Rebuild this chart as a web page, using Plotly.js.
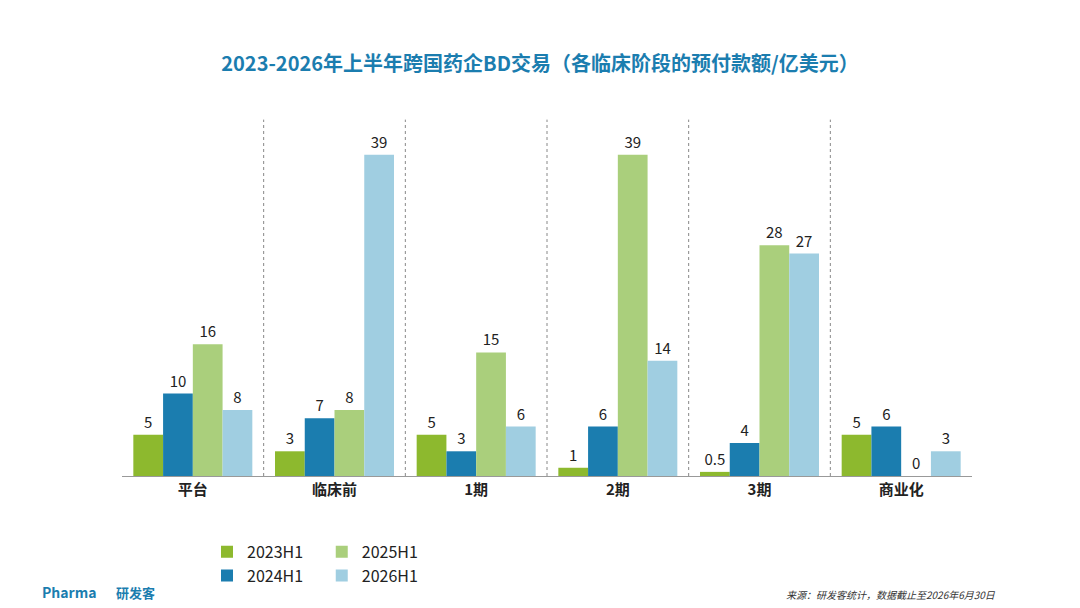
<!DOCTYPE html>
<html><head><meta charset="utf-8">
<script src="https://cdn.plot.ly/plotly-3.0.1.min.js"></script>
<style>body{margin:0}#c{width:1080px;height:608px}</style>
</head><body><div id="c"></div>
<script>
var categories = ['平台', '临床前', '1期', '2期', '3期', '商业化'];
var tickLabels = ['<b>平台</b>', '<b>临床前</b>', '<b>1期</b>', '<b>2期</b>', '<b>3期</b>', '<b>商业化</b>'];
var h2023 = [5, 3, 5, 1, 0.5, 5];
var h2024 = [10, 7, 3, 6, 4, 6];
var h2025 = [16, 8, 15, 39, 28, 0];
var h2026 = [8, 39, 6, 14, 27, 3];

function bar(name, vals, color, legend) {
    return {
        x: categories, y: vals, name: name, type: 'bar', legend: legend,
        marker: {color: color},
        text: vals.map(String), textposition: 'outside', cliponaxis: false,
        textfont: {size: 15, color: '#222'}
    };
}
var data = [
    bar('2023H1', h2023, '#8DB92E', 'legend'),
    bar('2024H1', h2024, '#1B7DAF', 'legend'),
    bar('2025H1', h2025, '#AACF7C', 'legend2'),
    bar('2026H1', h2026, '#A0CEE1', 'legend2')
];

var shapes = [];
for (var i = 0; i < categories.length - 1; i++) {
    shapes.push({type: 'line', xref: 'x', yref: 'paper', x0: i + 0.5, x1: i + 0.5, y0: 0, y1: 1.03,
        line: {color: '#888', width: 1, dash: 'dot'}});
}

var legendStyle = {font: {size: 16, color: '#222'}, itemwidth: 30, tracegroupgap: 0, bgcolor: 'rgba(0,0,0,0)'};
var layout = {
    font: {family: '"Noto Sans CJK SC", "Noto Sans", sans-serif', size: 13},
    title: {text: '<b>2023-2026年上半年跨国药企BD交易（各临床阶段的预付款额/亿美元）</b>',
        font: {size: 20, color: '#1B7DAF'}, x: 0.5, y: 0.895, yanchor: 'middle'},
    barmode: 'group', bargap: 0.16, bargroupgap: 0,
    margin: {l: 122, r: 108, t: 130, b: 132},
    xaxis: {showline: true, linecolor: '#999', tickfont: {size: 15, color: '#222'}, ticks: '',
        tickvals: categories, ticktext: tickLabels},
    yaxis: {range: [0, 42], visible: false, showgrid: false},
    shapes: shapes,
    legend: Object.assign({x: 0.1, y: -0.17, xanchor: 'left', yanchor: 'top'}, legendStyle),
    legend2: Object.assign({x: 0.235, y: -0.17, xanchor: 'left', yanchor: 'top'}, legendStyle),
    annotations: [
        {text: '<b>Pharma</b>', xref: 'paper', yref: 'paper', x: -0.028, y: -0.37, xanchor: 'right',
            showarrow: false, font: {size: 14, color: '#1B7DAF'}},
        {text: '<b>研发客</b>', xref: 'paper', yref: 'paper', x: -0.01, y: -0.37, xanchor: 'left',
            showarrow: false, font: {size: 13, color: '#1B7DAF'}},
        {text: '<i>来源：研发客统计，数据截止至2026年6月30日</i>', xref: 'paper', yref: 'paper', x: 1.03, y: -0.37,
            xanchor: 'right', showarrow: false, font: {size: 10, color: '#333'}}
    ],
    paper_bgcolor: '#fff', plot_bgcolor: '#fff'
};
Plotly.newPlot('c', data, layout, {displayModeBar: false});
</script></body></html>
